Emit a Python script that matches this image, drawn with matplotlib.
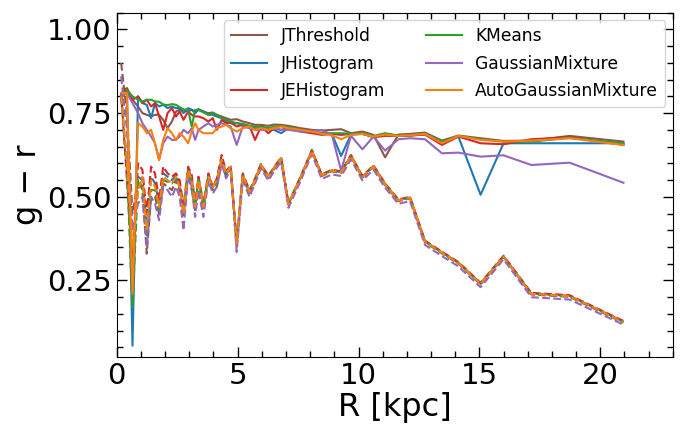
import matplotlib
matplotlib.use("Agg")
import matplotlib.pyplot as plt
from matplotlib.ticker import MultipleLocator

# radial bins (kpc)
R = [0.18, 0.42, 0.65, 0.88, 1.06, 1.24, 1.42, 1.58, 1.75, 1.92,
     2.10, 2.28, 2.45, 2.60, 2.76, 2.95, 3.10, 3.24, 3.38, 3.58,
     3.79, 3.97, 4.14, 4.34, 4.52, 4.71, 4.96, 5.21, 5.49, 5.72,
     5.96, 6.27, 6.50, 6.80, 7.10, 7.60, 8.07, 8.48, 8.90, 9.28,
     9.69, 10.16, 10.62, 11.10, 11.65, 12.13, 12.75, 13.45, 14.13, 15.05,
     16.00, 17.15, 18.73, 20.96]

# ── solid profiles (g - r) ───────────────────────────────────────────────────
jthreshold = [0.80, 0.81, 0.79, 0.77, 0.75, 0.745, 0.74, 0.745, 0.745, 0.73,
              0.705, 0.725, 0.755, 0.76, 0.76, 0.755, 0.76, 0.755, 0.762, 0.755,
              0.75, 0.752, 0.745, 0.74, 0.735, 0.73, 0.732, 0.725, 0.72, 0.715,
              0.715, 0.712, 0.716, 0.715, 0.712, 0.705, 0.70, 0.698, 0.70, 0.702,
              0.69, 0.695, 0.685, 0.618, 0.686, 0.688, 0.692, 0.668, 0.683, 0.675,
              0.667, 0.668, 0.682, 0.665]
jhistogram = [0.80, 0.815, 0.055, 0.80, 0.78, 0.775, 0.735, 0.78, 0.77, 0.775,
              0.765, 0.77, 0.765, 0.765, 0.75, 0.765, 0.76, 0.75, 0.76, 0.755,
              0.745, 0.745, 0.74, 0.735, 0.725, 0.72, 0.72, 0.716, 0.71, 0.705,
              0.705, 0.70, 0.70, 0.69, 0.705, 0.698, 0.692, 0.69, 0.688, 0.622,
              0.686, 0.688, 0.68, 0.688, 0.682, 0.683, 0.687, 0.662, 0.68, 0.506,
              0.66, 0.66, 0.66, 0.66]
jehistogram = [0.81, 0.825, 0.79, 0.80, 0.78, 0.79, 0.77, 0.78, 0.74, 0.70,
               0.75, 0.765, 0.74, 0.755, 0.73, 0.755, 0.745, 0.74, 0.74, 0.735,
               0.725, 0.735, 0.70, 0.73, 0.72, 0.722, 0.71, 0.715, 0.712, 0.67,
               0.71, 0.69, 0.705, 0.70, 0.706, 0.695, 0.69, 0.685, 0.688, 0.685,
               0.688, 0.688, 0.678, 0.682, 0.682, 0.683, 0.686, 0.655, 0.68, 0.66,
               0.657, 0.672, 0.678, 0.655]
kmeans = [0.80, 0.82, 0.80, 0.79, 0.785, 0.79, 0.79, 0.785, 0.784, 0.776,
          0.774, 0.777, 0.775, 0.768, 0.761, 0.76, 0.71, 0.76, 0.76, 0.752,
          0.745, 0.75, 0.745, 0.735, 0.73, 0.725, 0.72, 0.718, 0.712, 0.71,
          0.71, 0.705, 0.71, 0.712, 0.708, 0.70, 0.695, 0.69, 0.69, 0.69,
          0.688, 0.69, 0.682, 0.69, 0.683, 0.684, 0.689, 0.665, 0.682, 0.672,
          0.665, 0.665, 0.676, 0.66]
gaussmix = [0.80, 0.81, 0.78, 0.75, 0.72, 0.70, 0.68, 0.66, 0.61, 0.66,
            0.68, 0.67, 0.67, 0.68, 0.70, 0.69, 0.705, 0.67, 0.70, 0.71,
            0.72, 0.71, 0.715, 0.72, 0.715, 0.71, 0.655, 0.71, 0.705, 0.70,
            0.70, 0.70, 0.705, 0.70, 0.70, 0.695, 0.695, 0.70, 0.685, 0.578,
            0.682, 0.642, 0.68, 0.638, 0.672, 0.675, 0.672, 0.63, 0.632, 0.62,
            0.624, 0.595, 0.602, 0.542]
autogauss = [0.81, 0.81, 0.21, 0.72, 0.71, 0.69, 0.70, 0.66, 0.61, 0.67,
             0.705, 0.69, 0.67, 0.69, 0.68, 0.66, 0.695, 0.72, 0.70, 0.69,
             0.69, 0.69, 0.705, 0.71, 0.715, 0.705, 0.695, 0.705, 0.71, 0.70,
             0.705, 0.70, 0.705, 0.71, 0.705, 0.70, 0.695, 0.688, 0.684, 0.672,
             0.685, 0.688, 0.68, 0.686, 0.682, 0.684, 0.688, 0.66, 0.682, 0.67,
             0.665, 0.668, 0.675, 0.655]

# ── dashed profiles (g - r) ──────────────────────────────────────────────────
jthreshold_d = [0.90, 0.75, 0.45, 0.55, 0.52, 0.33, 0.50, 0.50, 0.45, 0.54,
                0.53, 0.52, 0.55, 0.52, 0.44, 0.57, 0.52, 0.46, 0.52, 0.46,
                0.55, 0.52, 0.53, 0.60, 0.56, 0.585, 0.355, 0.56, 0.51, 0.545,
                0.592, 0.556, 0.583, 0.613, 0.476, 0.555, 0.636, 0.562, 0.576, 0.571,
                0.621, 0.557, 0.590, 0.535, 0.487, 0.495, 0.364, 0.331, 0.300, 0.238,
                0.320, 0.208, 0.201, 0.124]
jhistogram_d = [0.80, 0.60, 0.30, 0.56, 0.55, 0.42, 0.56, 0.54, 0.48, 0.57,
                0.56, 0.55, 0.565, 0.54, 0.46, 0.585, 0.555, 0.475, 0.555, 0.475,
                0.565, 0.53, 0.55, 0.615, 0.57, 0.59, 0.36, 0.565, 0.515, 0.55,
                0.596, 0.561, 0.586, 0.616, 0.479, 0.558, 0.638, 0.565, 0.579, 0.574,
                0.623, 0.560, 0.592, 0.538, 0.490, 0.498, 0.367, 0.334, 0.303, 0.241,
                0.322, 0.211, 0.204, 0.127]
jehistogram_d = [0.81, 0.55, 0.30, 0.60, 0.58, 0.45, 0.59, 0.57, 0.49, 0.59,
                 0.57, 0.56, 0.57, 0.55, 0.47, 0.59, 0.565, 0.48, 0.56, 0.48,
                 0.57, 0.53, 0.555, 0.625, 0.575, 0.595, 0.36, 0.57, 0.52, 0.555,
                 0.598, 0.563, 0.588, 0.618, 0.481, 0.560, 0.640, 0.567, 0.581, 0.576,
                 0.625, 0.562, 0.594, 0.540, 0.492, 0.500, 0.369, 0.336, 0.305, 0.243,
                 0.324, 0.213, 0.206, 0.129]
kmeans_d = [0.80, 0.58, 0.17, 0.55, 0.53, 0.38, 0.52, 0.52, 0.46, 0.55,
            0.545, 0.54, 0.555, 0.53, 0.45, 0.575, 0.55, 0.47, 0.55, 0.47,
            0.56, 0.525, 0.545, 0.61, 0.565, 0.59, 0.36, 0.565, 0.515, 0.55,
            0.595, 0.560, 0.585, 0.615, 0.478, 0.557, 0.637, 0.564, 0.578, 0.573,
            0.622, 0.559, 0.591, 0.537, 0.489, 0.497, 0.366, 0.333, 0.302, 0.240,
            0.321, 0.210, 0.203, 0.126]
gaussmix_d = [0.86, 0.70, 0.40, 0.48, 0.50, 0.35, 0.50, 0.48, 0.43, 0.53,
              0.52, 0.50, 0.53, 0.50, 0.40, 0.56, 0.53, 0.44, 0.52, 0.44,
              0.55, 0.51, 0.53, 0.60, 0.555, 0.58, 0.335, 0.55, 0.50, 0.54,
              0.585, 0.549, 0.575, 0.605, 0.467, 0.547, 0.628, 0.553, 0.567, 0.562,
              0.612, 0.549, 0.581, 0.527, 0.479, 0.487, 0.356, 0.323, 0.292, 0.230,
              0.313, 0.200, 0.193, 0.118]
autogauss_d = [0.80, 0.60, 0.35, 0.52, 0.56, 0.40, 0.55, 0.53, 0.47, 0.56,
               0.55, 0.54, 0.56, 0.53, 0.45, 0.58, 0.55, 0.47, 0.55, 0.47,
               0.56, 0.53, 0.55, 0.61, 0.57, 0.59, 0.36, 0.565, 0.515, 0.55,
               0.595, 0.560, 0.585, 0.615, 0.478, 0.557, 0.637, 0.564, 0.578, 0.573,
               0.622, 0.559, 0.591, 0.537, 0.489, 0.497, 0.366, 0.333, 0.302, 0.240,
               0.321, 0.210, 0.203, 0.126]

METHODS = [
    ("JThreshold",          "C5", jthreshold, jthreshold_d),
    ("JHistogram",          "C0", jhistogram, jhistogram_d),
    ("JEHistogram",         "C3", jehistogram, jehistogram_d),
    ("KMeans",              "C2", kmeans, kmeans_d),
    ("GaussianMixture",     "C4", gaussmix, gaussmix_d),
    ("AutoGaussianMixture", "C1", autogauss, autogauss_d),
]

fig = plt.figure(figsize=(6.83, 4.25), dpi=100)
ax = fig.add_axes([0.171, 0.159, 0.814, 0.811])

for label, color, solid, dashed in METHODS:
    ax.plot(R, solid, color=color, lw=1.5, label=label)
    ax.plot(R, dashed, color=color, lw=1.5, ls="--")

ax.set_xlim(0, 23)
ax.set_ylim(0.02, 1.05)
ax.xaxis.set_major_locator(MultipleLocator(5))
ax.xaxis.set_minor_locator(MultipleLocator(1))
ax.yaxis.set_major_locator(MultipleLocator(0.25))
ax.yaxis.set_minor_locator(MultipleLocator(0.05))
ax.tick_params(which="both", direction="in", top=True, right=True)
ax.tick_params(which="major", length=7, width=1, labelsize=21)
ax.tick_params(which="minor", length=4, width=1)

ax.set_xlabel("R [kpc]", fontsize=23, labelpad=1)
ax.set_ylabel("g \u2212 r", fontsize=23, labelpad=3)

ax.legend(loc="upper right", ncol=2, fontsize=12.3, frameon=True,
          handlelength=2.1, columnspacing=2.4, labelspacing=0.55,
          borderaxespad=0.45)

fig.savefig("out.png", dpi=100)
